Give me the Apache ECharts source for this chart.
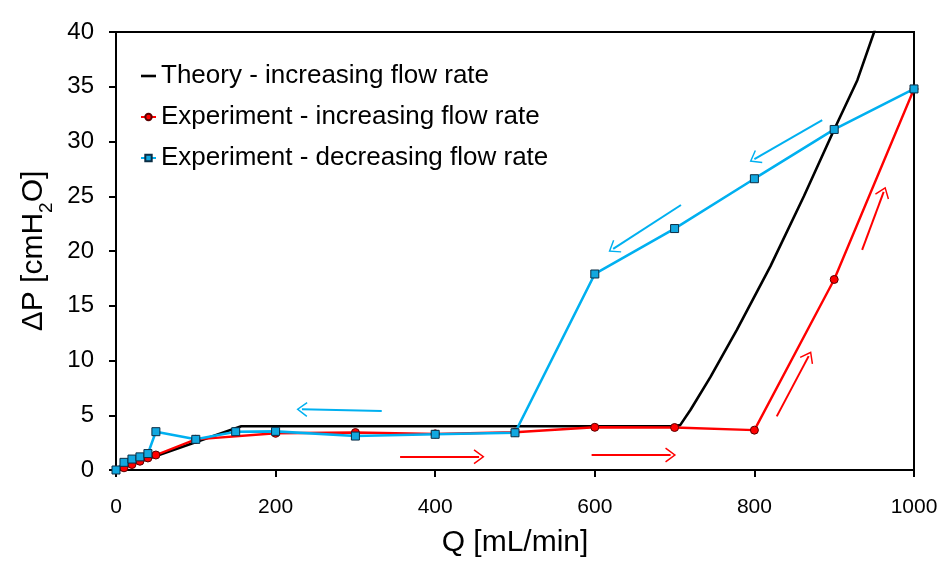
<!DOCTYPE html>
<html><head><meta charset="utf-8">
<script src="https://cdn.jsdelivr.net/npm/echarts@6/dist/echarts.min.js"></script>
<style>html,body{margin:0;padding:0;background:#fff}#c{width:942px;height:561px}</style>
</head><body><div id="c"></div>
<script>
// Theory - increasing flow rate
const theoryQ = [0, 157, 700, 707, 720, 745, 778, 820, 862, 900, 929, 951];
const theoryP = [0, 4, 4, 4.1, 5.5, 8.5, 12.8, 18.6, 25.0, 31.1, 35.6, 40.2];
// Experiment - increasing flow rate
const incQ = [0, 10, 20, 30, 40, 50, 100, 200, 300, 400, 500, 600, 700, 800, 900, 1000];
const incP = [0, 0.2, 0.5, 0.8, 1.1, 1.37, 2.8, 3.35, 3.42, 3.3, 3.45, 3.9, 3.88, 3.64, 17.4, 34.8];
// Experiment - decreasing flow rate
const decQ = [0, 10, 20, 30, 40, 50, 100, 150, 200, 300, 400, 500, 600, 700, 800, 900, 1000];
const decP = [0, 0.7, 1.0, 1.2, 1.5, 3.5, 2.8, 3.5, 3.53, 3.1, 3.26, 3.4, 17.9, 22.05, 26.6, 31.1, 34.8];
// Direction arrows [fromQ, fromP, toQ, toP]
const incArrows = [[356, 1.21, 455, 1.21], [596, 1.37, 695, 1.37], [828, 4.9, 868, 10.4], [935, 20.1, 962, 25.4]];
const decArrows = [[333, 5.39, 233, 5.54], [708, 24.2, 623, 20.2], [885, 31.96, 800, 28.4]];
const xTicks = { min: 0, max: 1000, interval: 200 };
const yTicks = { min: 0, max: 40, interval: 5 };

const zip = (a, b) => a.map((v, i) => [v, b[i]]);
const arrowPath = 'path://M7,0 L14,9.2 L12.9,10 L7,2.2 L1.1,10 L0,9.2 Z';
const mk = (arr, color) => ({
  silent: true, animation: false,
  symbol: ['none', arrowPath], symbolSize: [15, 11],
  label: { show: false },
  lineStyle: { color: color, width: 2, type: 'solid' },
  emphasis: { disabled: true },
  data: arr.map(a => [{ coord: [a[0], a[1]] }, { coord: [a[2], a[3]] }])
});

const chart = echarts.init(document.getElementById('c'), null, { renderer: 'canvas' });
const font = 'Liberation Sans, Arial, sans-serif';
chart.setOption({
  animation: false,
  backgroundColor: '#fff',
  textStyle: { fontFamily: font },
  grid: {
    left: 116, right: 28, top: 32, bottom: 91, show: true, borderColor: '#000', borderWidth: 2,
    containLabel: false, outerBoundsMode: 'none'
  },
  legend: {
    orient: 'vertical', left: 135, top: 58, itemGap: 15, itemWidth: 15, itemHeight: 8,
    textStyle: { fontSize: 26, color: '#000', fontFamily: font },
    data: [
      { name: 'Theory - increasing flow rate', icon: 'path://M0,0 H15 V2.6 H0 Z' },
      'Experiment - increasing flow rate',
      'Experiment - decreasing flow rate'
    ]
  },
  xAxis: {
    type: 'value', min: xTicks.min, max: xTicks.max, interval: xTicks.interval,
    name: 'Q [mL/min]', nameLocation: 'middle', nameGap: 58,
    nameTextStyle: { fontSize: 30, color: '#000', fontFamily: font },
    axisLine: { show: true, lineStyle: { color: '#000', width: 2 } },
    axisTick: { show: true, inside: false, length: 7, lineStyle: { color: '#000', width: 2 } },
    axisLabel: { fontSize: 21, color: '#000', margin: 27, formatter: v => String(v) },
    splitLine: { show: false }
  },
  yAxis: {
    type: 'value', min: yTicks.min, max: yTicks.max, interval: yTicks.interval,
    name: '{a|ΔP [cmH}{s|2}{a|O]}', nameLocation: 'middle', nameGap: 54,
    nameTextStyle: {
      color: '#000', fontFamily: font,
      rich: {
        a: { fontSize: 30, color: '#000', fontFamily: font, lineHeight: 30, verticalAlign: 'top' },
        s: { fontSize: 19, color: '#000', fontFamily: font, lineHeight: 38, verticalAlign: 'bottom' }
      }
    },
    axisLine: { show: true, lineStyle: { color: '#000', width: 2 } },
    axisTick: { show: true, inside: false, length: 7, lineStyle: { color: '#000', width: 2 } },
    axisLabel: { fontSize: 24, color: '#000', margin: 22 },
    splitLine: { show: false }
  },
  series: [
    {
      name: 'Theory - increasing flow rate', type: 'line', data: zip(theoryQ, theoryP),
      showSymbol: false, symbol: 'none', clip: true,
      lineStyle: { color: '#000', width: 2.6 }, itemStyle: { color: '#000' }
    },
    {
      name: 'Experiment - increasing flow rate', type: 'line', data: zip(incQ, incP),
      symbol: 'circle', symbolSize: 8,
      lineStyle: { color: '#FF0000', width: 2.4 },
      itemStyle: { color: '#FF0000', borderColor: '#5a0000', borderWidth: 1 },
      markLine: mk(incArrows, '#FF0000')
    },
    {
      name: 'Experiment - decreasing flow rate', type: 'line', data: zip(decQ, decP),
      symbol: 'rect', symbolSize: 8,
      lineStyle: { color: '#00B0F0', width: 2.6 },
      itemStyle: { color: '#12A8E0', borderColor: '#0b2d44', borderWidth: 1 },
      markLine: mk(decArrows, '#00B0F0')
    }
  ]
});
</script></body></html>
